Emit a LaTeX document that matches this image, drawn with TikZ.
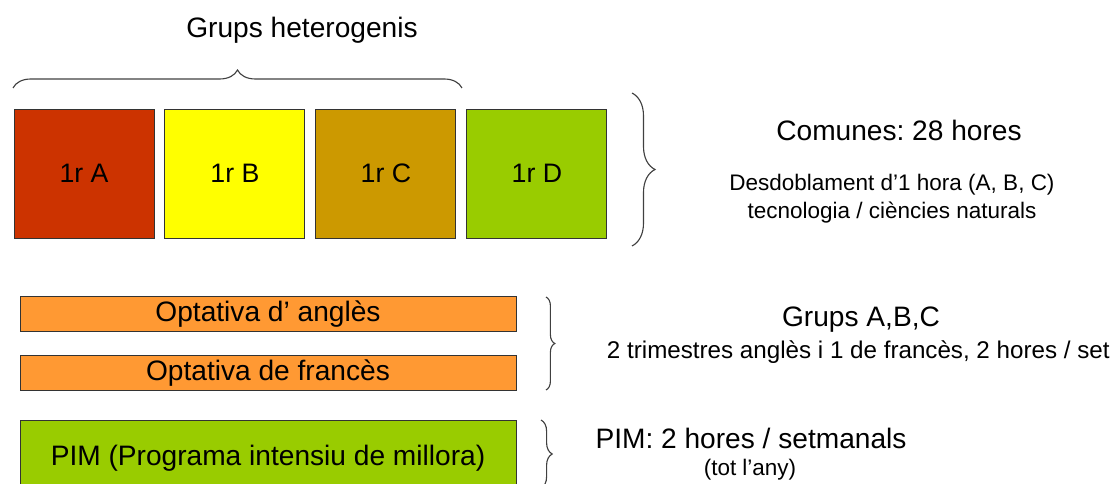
\documentclass[tikz,border=0pt]{standalone}
\usepackage{fontspec}
\setmainfont{Liberation Sans}
\usetikzlibrary{decorations.pathreplacing,positioning}
\frenchspacing

\definecolor{grupA}{HTML}{CC3300}
\definecolor{grupB}{HTML}{FFFF00}
\definecolor{grupC}{HTML}{CC9900}
\definecolor{grupD}{HTML}{99CC00}
\definecolor{optativa}{HTML}{FF9933}

\tikzset{
	grupbox/.style={draw=black!80,line width=0.7pt,minimum width=3.5cm,minimum height=3.225cm,font=\fontsize{19}{23}\selectfont},
	barbox/.style={draw=black!80,line width=0.7pt,minimum width=12.4cm,minimum height=0.85cm,font=\fontsize{20}{24}\selectfont},
	clau/.style={decorate,line width=0.8pt,draw=black!75},
	gran/.style={font=\fontsize{20}{24}\selectfont},
	petit/.style={font=\fontsize{16}{20}\selectfont}
}

\begin{document}
\begin{tikzpicture}
	\clip (0,0) rectangle (28,12.1);
	
	\node[gran] (titol) at (7.55,11.35) {Grups heterogenis};
	
	\node[grupbox,fill=grupA] (A) at (2.1,7.7625) {1r A};
	\node[grupbox,fill=grupB,right=0.25cm of A] (B) {1r B};
	\node[grupbox,fill=grupC,right=0.25cm of B] (C) {1r C};
	\node[grupbox,fill=grupD,right=0.25cm of C] (D) {1r D};
	
	\coordinate (hetL) at (0.325,9.9);
	\coordinate (hetR) at (11.55,9.9);
	\draw[clau,decoration={brace,amplitude=0.45cm}] (hetL)--(hetR);
	
	\coordinate (comT) at (15.8,9.775);
	\coordinate (comB) at (15.8,5.95);
	\draw[clau,decoration={brace,amplitude=0.575cm}] (comT)--(comB);
	
	\node[gran] (comunes) at (22.475,8.85) {Comunes: 28 hores};
	\node[petit,align=center] (desdob) at (22.3,7.125) {
		Desdoblament d’1 hora (A, B, C)\\
		tecnologia / ciències naturals
	};
	
	\node[barbox,fill=optativa] (angles) at (6.7,4.25) {Optativa d’ anglès};
	\node[barbox,fill=optativa] (frances) at (6.7,2.775) {Optativa de francès};
	
	\coordinate (optT) at (13.65,4.675);
	\coordinate (optB) at (13.65,2.35);
	\draw[clau,decoration={brace,amplitude=0.22cm}] (optT)--(optB);
	
	\node[gran] (grupsabc) at (21.525,4.1) {Grups A,B,C};
	\node[right,font=\fontsize{17.2}{20}\selectfont] (trimestres) at (15.05,3.3) {2 trimestres anglès i 1 de francès, 2 hores / set};
	
	\node[barbox,fill=grupD,minimum height=1.9cm] (pim) at (6.7,0.65) {PIM (Programa intensiu de millora)};
	
	\coordinate (pimT) at (13.525,1.6);
	\coordinate (pimB) at (13.525,-0.1);
	\draw[clau,decoration={brace,amplitude=0.28cm}] (pimT)--(pimB);
	
	\node[gran] (pimhores) at (18.775,1.15) {PIM: 2 hores / setmanals};
	\node[petit] (totany) at (18.75,0.35) {(tot l’any)};
\end{tikzpicture}
\end{document}
